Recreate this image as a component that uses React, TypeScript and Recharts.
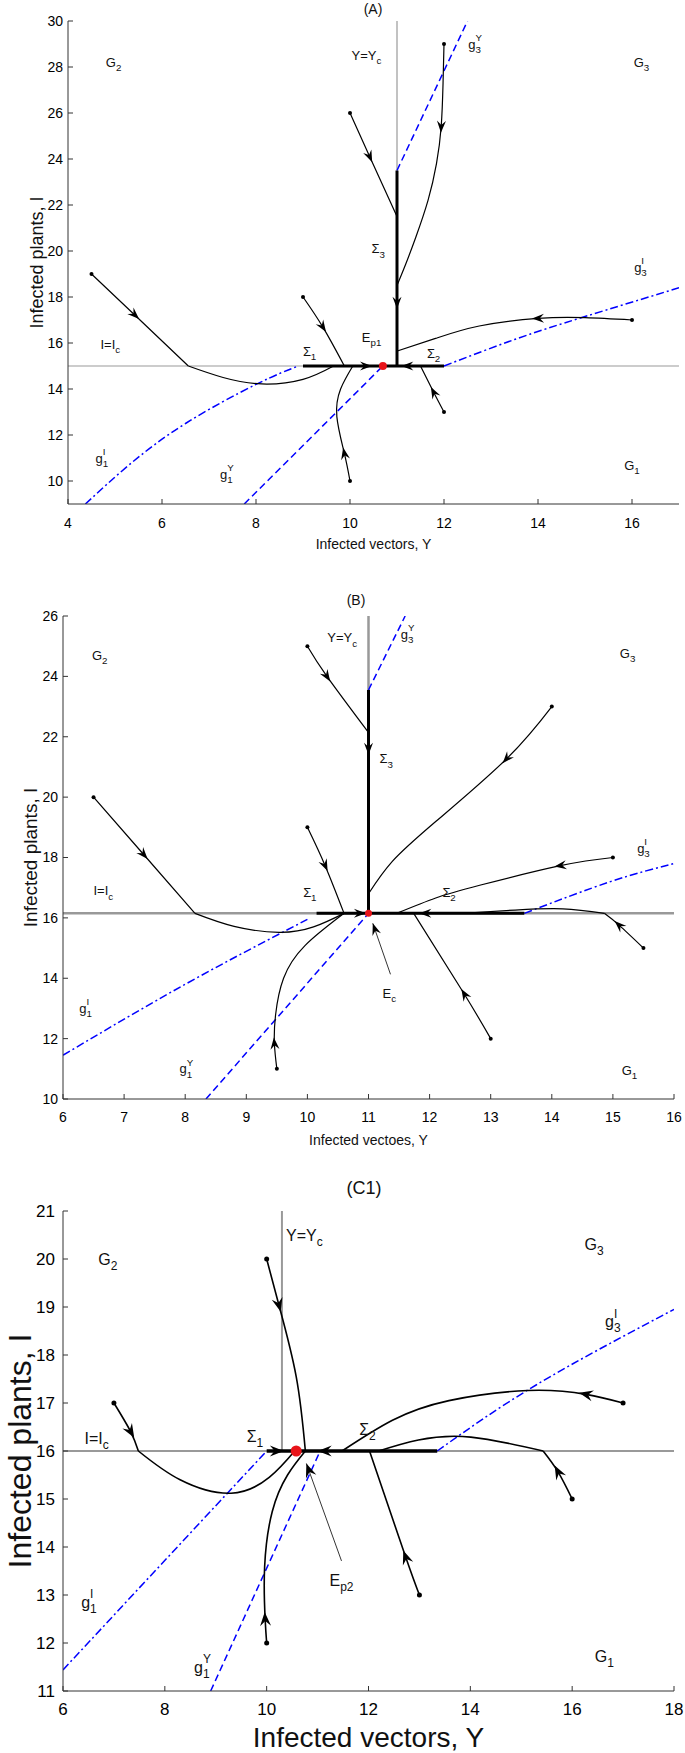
import React from "react";
import { ComposedChart, Line, XAxis, YAxis, Scatter } from "recharts";

type Pt = { x: number; y: number; s?: number; a?: number };
type Note = { x: number; y: number; main: string; sub?: string; sup?: string };

const FONT = '"Liberation Sans", Arial, Helvetica, sans-serif';

// ---------- panel A ----------
const aTicksX = [4, 6, 8, 10, 12, 14, 16];
const aTicksY = [10, 12, 14, 16, 18, 20, 22, 24, 26, 28, 30];
const aGray: Pt[][] = [
  [{ x: 4, y: 15 }, { x: 17, y: 15 }],
  [{ x: 11, y: 23.5 }, { x: 11, y: 30 }],
];
const aDashed: Pt[][] = [
  [{ x: 7.75, y: 9 }, { x: 10.7, y: 15 }],
  [{ x: 11, y: 23.5 }, { x: 12.5, y: 30 }],
];
const aDashDot: Pt[][] = [
  [{ x: 4.37, y: 9 }, { x: 5.3, y: 10.7 }, { x: 6.5, y: 12.5 }, { x: 8, y: 14.2 }, { x: 8.9, y: 15 }],
  [{ x: 12, y: 15 }, { x: 13.5, y: 16.15 }, { x: 15, y: 17.15 }, { x: 17, y: 18.4 }],
];
const aTraj: Pt[][] = [
  [{ x: 4.5, y: 19, s: 1 }, { x: 5.42, y: 17.22, a: 1 }, { x: 6.56, y: 15 }],
  [{ x: 6.56, y: 15 }, { x: 7.3, y: 14.5 }, { x: 8.12, y: 14.22 }, { x: 9.0, y: 14.42 }, { x: 9.65, y: 15 }],
  [{ x: 9, y: 18, s: 1 }, { x: 9.42, y: 16.7, a: 1 }, { x: 9.88, y: 15 }],
  [{ x: 10, y: 26, s: 1 }, { x: 10.42, y: 24.1, a: 1 }, { x: 11, y: 21.5 }],
  [{ x: 12, y: 29, s: 1 }, { x: 11.98, y: 27.3 }, { x: 11.94, y: 25.4, a: 1 }, { x: 11.84, y: 23.8 }, { x: 11.66, y: 22.2 }, { x: 11.4, y: 20.6 }, { x: 11.18, y: 19.4 }, { x: 11, y: 18.5 }],
  [{ x: 16, y: 17, s: 1 }, { x: 15, y: 17.1 }, { x: 14, y: 17.07, a: 1 }, { x: 12.75, y: 16.74 }, { x: 11.82, y: 16.2 }, { x: 11, y: 15.65 }],
  [{ x: 12, y: 13, s: 1 }, { x: 11.78, y: 13.86, a: 1 }, { x: 11.5, y: 15 }],
  [{ x: 10, y: 10, s: 1 }, { x: 9.88, y: 11.2, a: 1 }, { x: 9.72, y: 12.8 }, { x: 9.8, y: 14.0 }, { x: 10.06, y: 15 }],
];
const aSlide: Pt[][] = [
  [{ x: 9, y: 15 }, { x: 10.34, y: 15, a: 1 }, { x: 10.7, y: 15 }],
  [{ x: 12, y: 15 }, { x: 11.22, y: 15, a: 1 }, { x: 10.7, y: 15 }],
  [{ x: 11, y: 23.5 }, { x: 11, y: 17.75, a: 1 }, { x: 11, y: 15 }],
];
const aEq: Pt[] = [{ x: 10.7, y: 15 }];
const aNotes: Note[] = [
  { x: 4.97, y: 28.2, main: "G", sub: "2" },
  { x: 16.2, y: 28.2, main: "G", sub: "3" },
  { x: 10.35, y: 28.5, main: "Y=Y", sub: "c" },
  { x: 12.66, y: 29.0, main: "g", sub: "3", sup: "Y" },
  { x: 10.6, y: 20.1, main: "Σ", sub: "3" },
  { x: 16.18, y: 19.3, main: "g", sub: "3", sup: "I" },
  { x: 10.46, y: 16.25, main: "E", sub: "p1" },
  { x: 4.9, y: 15.96, main: "I=I", sub: "c" },
  { x: 9.14, y: 15.65, main: "Σ", sub: "1" },
  { x: 11.78, y: 15.57, main: "Σ", sub: "2" },
  { x: 4.72, y: 11.0, main: "g", sub: "1", sup: "I" },
  { x: 7.38, y: 10.3, main: "g", sub: "1", sup: "Y" },
  { x: 16.0, y: 10.7, main: "G", sub: "1" },
];

// ---------- panel B ----------
const bTicksX = [6, 7, 8, 9, 10, 11, 12, 13, 14, 15, 16];
const bTicksY = [10, 12, 14, 16, 18, 20, 22, 24, 26];
const bGray: Pt[][] = [
  [{ x: 6, y: 16.15 }, { x: 16, y: 16.15 }],
  [{ x: 11, y: 23.55 }, { x: 11, y: 26 }],
];
const bDashed: Pt[][] = [
  [{ x: 8.34, y: 10 }, { x: 11, y: 16.15 }],
  [{ x: 11, y: 23.55 }, { x: 11.6, y: 26 }],
];
const bDashDot: Pt[][] = [
  [{ x: 6, y: 11.45 }, { x: 8, y: 13.8 }, { x: 10, y: 15.95 }],
  [{ x: 13.55, y: 16.15 }, { x: 14.96, y: 17.2 }, { x: 16, y: 17.8 }],
];
const bTraj: Pt[][] = [
  [{ x: 6.5, y: 20, s: 1 }, { x: 7.32, y: 18.1, a: 1 }, { x: 8.16, y: 16.15 }],
  [{ x: 8.16, y: 16.15 }, { x: 8.8, y: 15.72 }, { x: 9.54, y: 15.52 }, { x: 10.1, y: 15.7 }, { x: 10.6, y: 16.15 }],
  [{ x: 10, y: 19, s: 1 }, { x: 10.29, y: 17.73, a: 1 }, { x: 10.6, y: 16.15 }],
  [{ x: 10, y: 25, s: 1 }, { x: 10.32, y: 24.0, a: 1 }, { x: 11, y: 22.14 }],
  [{ x: 14, y: 23, s: 1 }, { x: 13.26, y: 21.27, a: 1 }, { x: 12.1, y: 19.19 }, { x: 11.39, y: 17.87 }, { x: 11, y: 16.8 }],
  [{ x: 15, y: 18, s: 1 }, { x: 14.14, y: 17.73, a: 1 }, { x: 12.82, y: 17.08 }, { x: 12.1, y: 16.66 }, { x: 11.46, y: 16.15 }],
  [{ x: 15.5, y: 15, s: 1 }, { x: 15.1, y: 15.76, a: 1 }, { x: 14.86, y: 16.15 }],
  [{ x: 14.86, y: 16.15 }, { x: 14.18, y: 16.3 }, { x: 13.4, y: 16.26 }, { x: 12.68, y: 16.17 }],
  [{ x: 13, y: 12, s: 1 }, { x: 12.57, y: 13.47, a: 1 }, { x: 11.74, y: 16.15 }],
  [{ x: 9.5, y: 11, s: 1 }, { x: 9.46, y: 11.84, a: 1 }, { x: 9.48, y: 12.8 }, { x: 9.61, y: 14.0 }, { x: 9.96, y: 15.08 }, { x: 10.6, y: 16.15 }],
];
const bSlide: Pt[][] = [
  [{ x: 10.15, y: 16.15 }, { x: 10.86, y: 16.15, a: 1 }, { x: 11, y: 16.15 }],
  [{ x: 13.55, y: 16.15 }, { x: 11.93, y: 16.15, a: 1 }, { x: 11, y: 16.15 }],
  [{ x: 11, y: 23.55 }, { x: 11, y: 21.6, a: 1 }, { x: 11, y: 16.15 }],
];
const bPointer: Pt[] = [{ x: 11.36, y: 14.13 }, { x: 11.07, y: 15.82, a: 2 }];
const bEq: Pt[] = [{ x: 11, y: 16.15 }];
const bNotes: Note[] = [
  { x: 6.6, y: 24.7, main: "G", sub: "2" },
  { x: 15.24, y: 24.76, main: "G", sub: "3" },
  { x: 10.57, y: 25.28, main: "Y=Y", sub: "c" },
  { x: 11.64, y: 25.4, main: "g", sub: "3", sup: "Y" },
  { x: 11.29, y: 21.27, main: "Σ", sub: "3" },
  { x: 15.5, y: 18.3, main: "g", sub: "3", sup: "I" },
  { x: 6.66, y: 16.9, main: "I=I", sub: "c" },
  { x: 10.04, y: 16.84, main: "Σ", sub: "1" },
  { x: 12.32, y: 16.84, main: "Σ", sub: "2" },
  { x: 6.37, y: 13.0, main: "g", sub: "1", sup: "I" },
  { x: 8.02, y: 11.0, main: "g", sub: "1", sup: "Y" },
  { x: 15.27, y: 10.95, main: "G", sub: "1" },
  { x: 11.34, y: 13.5, main: "E", sub: "c" },
];

// ---------- panel C1 ----------
const cTicksX = [6, 8, 10, 12, 14, 16, 18];
const cTicksY = [11, 12, 13, 14, 15, 16, 17, 18, 19, 20, 21];
const cGray: Pt[][] = [
  [{ x: 6, y: 16 }, { x: 18, y: 16 }],
  [{ x: 10.3, y: 16 }, { x: 10.3, y: 21 }],
];
const cDashed: Pt[][] = [[{ x: 8.9, y: 11 }, { x: 11.05, y: 16 }]];
const cDashDot: Pt[][] = [
  [{ x: 6, y: 11.44 }, { x: 10, y: 16 }],
  [{ x: 13.35, y: 16 }, { x: 15.3, y: 17.38 }, { x: 18, y: 18.95 }],
];
const cTraj: Pt[][] = [
  [{ x: 7, y: 17, s: 1 }, { x: 7.33, y: 16.4, a: 1 }, { x: 7.48, y: 16 }],
  [{ x: 7.48, y: 16 }, { x: 8.3, y: 15.4 }, { x: 9.3, y: 15.12 }, { x: 10.05, y: 15.45 }, { x: 10.55, y: 16 }],
  [{ x: 10, y: 20, s: 1 }, { x: 10.24, y: 19.04, a: 1 }, { x: 10.58, y: 17.55 }, { x: 10.76, y: 16 }],
  [{ x: 17, y: 17, s: 1 }, { x: 16.27, y: 17.18, a: 1 }, { x: 15.13, y: 17.26 }, { x: 13.58, y: 17.05 }, { x: 12.47, y: 16.64 }, { x: 11.48, y: 16 }],
  [{ x: 16, y: 15, s: 1 }, { x: 15.72, y: 15.57, a: 1 }, { x: 15.43, y: 16 }],
  [{ x: 15.43, y: 16 }, { x: 14.01, y: 16.29 }, { x: 12.98, y: 16.23 }, { x: 12.2, y: 16 }],
  [{ x: 13, y: 13, s: 1 }, { x: 12.73, y: 13.79, a: 1 }, { x: 12.02, y: 16 }],
  [{ x: 10, y: 12, s: 1 }, { x: 9.97, y: 12.5, a: 1 }, { x: 9.96, y: 13.59 }, { x: 10.11, y: 14.74 }, { x: 10.41, y: 15.5 }, { x: 10.76, y: 16 }],
];
const cSlide: Pt[][] = [
  [{ x: 10, y: 16 }, { x: 10.2, y: 16, a: 1 }, { x: 10.58, y: 16 }],
  [{ x: 13.35, y: 16 }, { x: 11.14, y: 16, a: 1 }, { x: 10.58, y: 16 }],
];
const cPointer: Pt[] = [{ x: 11.47, y: 13.71 }, { x: 10.78, y: 15.74, a: 2 }];
const cEq: Pt[] = [{ x: 10.58, y: 16 }];
const cNotes: Note[] = [
  { x: 6.88, y: 20.0, main: "G", sub: "2" },
  { x: 16.43, y: 20.3, main: "G", sub: "3" },
  { x: 10.74, y: 20.5, main: "Y=Y", sub: "c" },
  { x: 16.8, y: 18.7, main: "g", sub: "3", sup: "I" },
  { x: 6.66, y: 16.27, main: "I=I", sub: "c" },
  { x: 9.77, y: 16.3, main: "Σ", sub: "1" },
  { x: 11.98, y: 16.45, main: "Σ", sub: "2" },
  { x: 11.47, y: 13.3, main: "E", sub: "p2" },
  { x: 6.51, y: 12.85, main: "g", sub: "1", sup: "I" },
  { x: 8.74, y: 11.5, main: "g", sub: "1", sup: "Y" },
  { x: 16.63, y: 11.73, main: "G", sub: "1" },
];

const charW: Record<string, number> = { G: 0.778, g: 0.556, Y: 0.667, "=": 0.584, I: 0.278, E: 0.667, "Σ": 0.6, c: 0.5, p: 0.556 };
const textW = (s: string, fs: number) => s.split("").reduce((w, ch) => w + (charW[ch] ?? 0.556) * fs, 0);

const noteShape = (fs: number) => (props: any) => {
  const { cx, cy, payload } = props;
  const small = fs * 0.75;
  const mw = textW(payload.main, fs);
  const sw = Math.max(payload.sub ? textW(payload.sub, small) : 0, payload.sup ? textW(payload.sup, small) : 0);
  const x0 = cx - (mw + sw) / 2;
  const base = cy + fs * 0.36;
  return (
    <g fontFamily={FONT} fill="#111">
      <text x={x0} y={base} fontSize={fs}>{payload.main}</text>
      {payload.sub && <text x={x0 + mw} y={base + fs * 0.32} fontSize={small}>{payload.sub}</text>}
      {payload.sup && <text x={x0 + mw} y={base - fs * 0.6} fontSize={small}>{payload.sup}</text>}
    </g>
  );
};

const arrowDot = (len: number, half: number, r: number) => (props: any) => {
  const { cx, cy, index, payload, points } = props;
  const k = `d${index}`;
  if (payload?.s) return <circle key={k} cx={cx} cy={cy} r={r} fill="#000" />;
  if (payload?.a && points && index > 0) {
    const p = points[index - 1];
    const ang = (Math.atan2(cy - p.y, cx - p.x) * 180) / Math.PI;
    const tip = payload.a === 2 ? 0 : len * 0.5;
    return (
      <path
        key={k}
        transform={`translate(${cx},${cy}) rotate(${ang})`}
        d={`M${tip},0 L${tip - len},${-half} L${tip - len * 0.65},0 L${tip - len},${half} Z`}
        fill="#000"
      />
    );
  }
  return <g key={k} />;
};

type PanelProps = {
  top: number;
  height: number;
  margin: { top: number; right: number; bottom: number; left: number };
  yWidth: number;
  xHeight: number;
  xDomain: [number, number];
  yDomain: [number, number];
  xTicks: number[];
  yTicks: number[];
  tickFont: number;
  tickMarginX: number;
  tickMarginY: number;
  title: string;
  titleFont: number;
  titleX: number;
  titleY: number;
  xLabel: string;
  xLabelFont: number;
  xLabelOffset: number;
  yLabel: string;
  yLabelFont: number;
  yLabelX: number;
  gray: Pt[][];
  grayWidth: number;
  dashed: Pt[][];
  dashDot: Pt[][];
  traj: Pt[][];
  slide: Pt[][];
  pointer?: Pt[];
  eq: Pt[];
  eqR: number;
  notes: Note[];
  noteFont: number;
  arrowLen: number;
  arrowHalf: number;
  startR: number;
  lineW: number;
  boldW: number;
};

function Panel(p: PanelProps) {
  const dot = arrowDot(p.arrowLen, p.arrowHalf, p.startR);
  const tick = { fill: "#000", fontSize: p.tickFont, fontFamily: FONT };
  const blank = () => "";
  return (
    <div style={{ position: "absolute", left: 0, top: p.top, width: 685, height: p.height }}>
      <div
        style={{
          position: "absolute",
          left: p.titleX - 40,
          width: 80,
          top: p.titleY - p.titleFont * 0.6,
          textAlign: "center",
          fontFamily: FONT,
          fontSize: p.titleFont,
          lineHeight: `${p.titleFont * 1.2}px`,
          color: "#111",
        }}
      >
        {p.title}
      </div>
      <ComposedChart width={685} height={p.height} margin={p.margin}>
        <XAxis
          type="number"
          dataKey="x"
          domain={p.xDomain}
          ticks={p.xTicks}
          interval={0}
          allowDataOverflow
          height={p.xHeight}
          tickSize={-5}
          tickMargin={p.tickMarginX}
          stroke="#333"
          tick={tick}
          label={{ value: p.xLabel, position: "insideBottom", offset: p.xLabelOffset, style: { fill: "#111", fontSize: p.xLabelFont, fontFamily: FONT } }}
        />
        <XAxis
          xAxisId="top"
          orientation="top"
          type="number"
          domain={p.xDomain}
          ticks={p.xTicks}
          interval={0}
          allowDataOverflow
          height={0}
          tickSize={-5}
          tickFormatter={blank}
          stroke="#333"
        />
        <YAxis
          type="number"
          dataKey="y"
          domain={p.yDomain}
          ticks={p.yTicks}
          interval={0}
          allowDataOverflow
          width={p.yWidth}
          tickSize={-5}
          tickMargin={p.tickMarginY}
          stroke="#333"
          tick={tick}
          label={{
            value: p.yLabel,
            angle: -90,
            position: "insideLeft",
            offset: p.yLabelX,
            style: { textAnchor: "middle", fill: "#111", fontSize: p.yLabelFont, fontFamily: FONT },
          }}
        />
        <YAxis
          yAxisId="right"
          orientation="right"
          type="number"
          domain={p.yDomain}
          ticks={p.yTicks}
          interval={0}
          allowDataOverflow
          width={0}
          tickSize={-5}
          tickFormatter={blank}
          stroke="#333"
        />
        {p.gray.map((d, i) => (
          <Line key={`gr${i}`} data={d} dataKey="y" type="linear" stroke="#999" strokeWidth={p.grayWidth} dot={false} activeDot={false} isAnimationActive={false} />
        ))}
        {p.dashed.map((d, i) => (
          <Line key={`da${i}`} data={d} dataKey="y" type="natural" stroke="#0000ff" strokeWidth={1.5} strokeDasharray="7 4" dot={false} activeDot={false} isAnimationActive={false} />
        ))}
        {p.dashDot.map((d, i) => (
          <Line key={`dd${i}`} data={d} dataKey="y" type="natural" stroke="#0000ff" strokeWidth={1.5} strokeDasharray="8 3 2 3" dot={false} activeDot={false} isAnimationActive={false} />
        ))}
        {p.slide.map((d, i) => (
          <Line key={`sl${i}`} data={d} dataKey="y" type="linear" stroke="#000" strokeWidth={p.boldW} dot={dot} activeDot={false} isAnimationActive={false} />
        ))}
        {p.traj.map((d, i) => (
          <Line key={`tr${i}`} data={d} dataKey="y" type="natural" stroke="#000" strokeWidth={p.lineW} dot={dot} activeDot={false} isAnimationActive={false} />
        ))}
        {p.pointer && (
          <Line data={p.pointer} dataKey="y" type="linear" stroke="#000" strokeWidth={0.8} dot={dot} activeDot={false} isAnimationActive={false} />
        )}
        <Scatter
          data={p.eq}
          dataKey="y"
          isAnimationActive={false}
          shape={(s: any) => <circle cx={s.cx} cy={s.cy} r={p.eqR} fill="#e8141a" />}
        />
        <Scatter data={p.notes} dataKey="y" isAnimationActive={false} shape={noteShape(p.noteFont)} />
      </ComposedChart>
    </div>
  );
}

export default function App() {
  return (
    <div style={{ position: "absolute", left: 0, top: 0, width: 685, height: 1753, background: "#fff" }}>
      <Panel
        top={0}
        height={560}
        margin={{ top: 21, right: 6, bottom: 0, left: 0 }}
        yWidth={68}
        xHeight={56}
        xDomain={[4, 17]}
        yDomain={[9, 30]}
        xTicks={aTicksX}
        yTicks={aTicksY}
        tickFont={14}
        tickMarginX={19}
        tickMarginY={10}
        title="(A)"
        titleFont={14}
        titleX={373}
        titleY={9}
        xLabel="Infected vectors, Y"
        xLabelFont={14}
        xLabelOffset={11}
        yLabel="Infected plants, I"
        yLabelFont={18}
        yLabelX={37}
        gray={aGray}
        grayWidth={1.2}
        dashed={aDashed}
        dashDot={aDashDot}
        traj={aTraj}
        slide={aSlide}
        eq={aEq}
        eqR={4}
        notes={aNotes}
        noteFont={13}
        arrowLen={12}
        arrowHalf={4.5}
        startR={2}
        lineW={1.2}
        boldW={3}
      />
      <Panel
        top={560}
        height={600}
        margin={{ top: 56, right: 11, bottom: 0, left: 0 }}
        yWidth={63}
        xHeight={61}
        xDomain={[6, 16]}
        yDomain={[10, 26]}
        xTicks={bTicksX}
        yTicks={bTicksY}
        tickFont={14}
        tickMarginX={18}
        tickMarginY={10}
        title="(B)"
        titleFont={14}
        titleX={356}
        titleY={40}
        xLabel="Infected vectoes, Y"
        xLabelFont={14}
        xLabelOffset={15}
        yLabel="Infected plants, I"
        yLabelFont={19}
        yLabelX={30}
        gray={bGray}
        grayWidth={2.5}
        dashed={bDashed}
        dashDot={bDashDot}
        traj={bTraj}
        slide={bSlide}
        pointer={bPointer}
        eq={bEq}
        eqR={3.5}
        notes={bNotes}
        noteFont={13}
        arrowLen={12}
        arrowHalf={4.5}
        startR={2}
        lineW={1.2}
        boldW={3}
      />
      <Panel
        top={1160}
        height={593}
        margin={{ top: 51, right: 11, bottom: 0, left: 0 }}
        yWidth={63}
        xHeight={62}
        xDomain={[6, 18]}
        yDomain={[11, 21]}
        xTicks={cTicksX}
        yTicks={cTicksY}
        tickFont={17}
        tickMarginX={17}
        tickMarginY={13}
        title="(C1)"
        titleFont={18}
        titleX={364}
        titleY={29}
        xLabel="Infected vectors, Y"
        xLabelFont={28}
        xLabelOffset={6}
        yLabel="Infected plants, I"
        yLabelFont={32}
        yLabelX={20}
        gray={cGray}
        grayWidth={2}
        dashed={cDashed}
        dashDot={cDashDot}
        traj={cTraj}
        slide={cSlide}
        pointer={cPointer}
        eq={cEq}
        eqR={5.5}
        notes={cNotes}
        noteFont={16}
        arrowLen={14}
        arrowHalf={5.5}
        startR={2.5}
        lineW={1.6}
        boldW={3.5}
      />
    </div>
  );
}
